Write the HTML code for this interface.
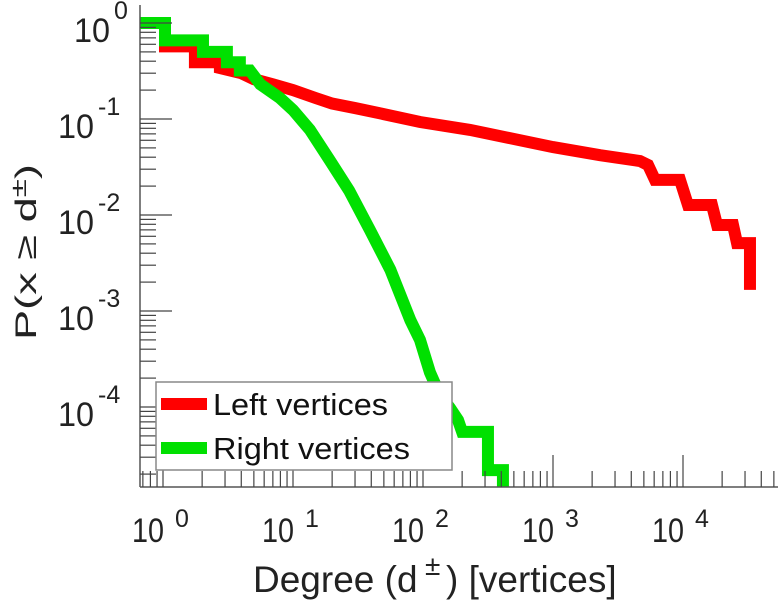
<!DOCTYPE html>
<html><head><meta charset="utf-8"><style>
html,body{margin:0;padding:0;background:#fff;}
svg{display:block;font-family:"Liberation Sans",sans-serif;}
</style></head><body>
<svg id="chart" width="778" height="600">
<defs><clipPath id="plotclip"><rect x="140" y="0" width="638" height="487"/></clipPath></defs>
<g id="series" clip-path="url(#plotclip)"></g>
<g id="axes"></g>
<g id="legend">
 <rect x="156" y="382" width="296" height="88" fill="#fff" stroke="#888" stroke-width="1.5"/>
 <line x1="161" y1="404" x2="207" y2="404" stroke="#ff0000" stroke-width="12"/>
 <text x="213" y="415" font-size="31" textLength="175" lengthAdjust="spacingAndGlyphs" fill="#111">Left vertices</text>
 <line x1="161" y1="448" x2="207" y2="448" stroke="#00e000" stroke-width="12"/>
 <text x="213" y="459" font-size="31" textLength="197" lengthAdjust="spacingAndGlyphs" fill="#111">Right vertices</text>
</g>
<g fill="#222" font-size="37">
 <text x="253" y="592">Degree (d</text>
 <text x="425" y="575" font-size="28">±</text>
 <text x="446" y="592">) [vertices]</text>
</g>
<text transform="translate(36,252) rotate(-90)" font-size="30" text-anchor="middle" textLength="176" lengthAdjust="spacingAndGlyphs" fill="#222">P(x ≥ d<tspan dy="-10" font-size="22">±</tspan><tspan dy="10">)</tspan></text>
</svg>
<script>
const xTicks=[0,1,2,3,4];
const yTicks=[0,-1,-2,-3,-4];
const leftDeg=[0.67,1.036,1.036,1.76,1.76,2.74,2.74,4,5,7,10,15,20,30,46,95,230,1000,2300,4670,5380,6090,9480,10920,16700,18270,24250,26030,32750,32750];
const leftP=[1,1,0.57,0.57,0.39,0.39,0.34,0.3,0.26,0.23,0.2,0.165,0.145,0.13,0.115,0.093,0.077,0.051,0.042,0.0365,0.0332,0.0232,0.0232,0.0127,0.0127,0.00787,0.00787,0.0051,0.0051,0.00166];
const rightDeg=[0.67,1.036,1.036,2.03,2.03,3.1,3.1,3.9,3.9,4.66,5.6,7.9,10,13.5,19.2,27,39,56,80,94.8,113,135,161,186,200,316,316,412,412];
const rightP=[1,1,0.66,0.66,0.5,0.5,0.39,0.39,0.32,0.32,0.23,0.166,0.124,0.077,0.037,0.018,0.007,0.0027,0.0008,0.0005,0.00023,0.000133,0.000098,0.000073,0.000055,0.000055,0.000022,0.000022,0.000012];
const NS='http://www.w3.org/2000/svg';
const X=d=>163+130*Math.log10(d);
const Y=p=>23-96*Math.log10(p);
const axes=document.getElementById('axes');
function mk(tag,attrs,parent){const e=document.createElementNS(NS,tag);for(const k in attrs)e.setAttribute(k,attrs[k]);parent.appendChild(e);return e;}
const xa=mk('line',{x1:140,y1:487,x2:778,y2:487,stroke:'#555','stroke-width':1.5},axes);


const ya=mk('line',{x1:140,y1:5,x2:140,y2:487,stroke:'#555','stroke-width':1.5},axes);


for(let e=-1;e<=4;e++){for(let m=1;m<10;m++){const px=X(m*Math.pow(10,e));if(px<140||px>778)continue;
 const t=mk('line',{x1:px,y1:487,x2:px,y2:m==1?455:471,stroke:'#444','stroke-width':1.2},axes);
 
 }}
for(let e=-5;e<=0;e++){for(let m=1;m<10;m++){const py=Y(m*Math.pow(10,e));if(py<5||py>487)continue;
 const t=mk('line',{x1:140,y1:py,x2:m==1?172:156,y2:py,stroke:'#444','stroke-width':1.2},axes);
 
 }}
xTicks.forEach(e=>{const px=X(Math.pow(10,e));
 const g=mk('g',{fill:'#222'},axes);
 
 
 const b=mk('text',{x:px-31,y:542,'font-size':34,textLength:32,lengthAdjust:'spacingAndGlyphs'},g);
 b.textContent='10';
 const s=mk('text',{x:px+12,y:527,'font-size':25},g);
 s.textContent=String(e);});
yTicks.forEach(e=>{const py=Y(Math.pow(10,e));
 const g=mk('g',{fill:'#222'},axes);
 
 
 const ex=String(e);
 const sw=ex.length>1?30:14;
 const b=mk('text',{x:128-sw-4-36,y:py+19,'font-size':34,textLength:36,lengthAdjust:'spacingAndGlyphs'},g);
 b.textContent='10';
 const s=mk('text',{x:128-sw,y:py-4,'font-size':25},g);
 s.textContent=ex;});
const series=document.getElementById('series');
function linePath(ds,ps){let d='M'+X(ds[0])+' '+Y(ps[0]);for(let i=1;i<ds.length;i++){d+=' L'+X(ds[i])+' '+Y(ps[i]);}return d;}
const lp=mk('path',{d:linePath(leftDeg,leftP),fill:'none',stroke:'#ff0000','stroke-width':12,'stroke-linejoin':'miter'},series);


const rp=mk('path',{d:linePath(rightDeg,rightP),fill:'none',stroke:'#00e000','stroke-width':12,'stroke-linejoin':'miter'},series);


</script>
</body></html>
